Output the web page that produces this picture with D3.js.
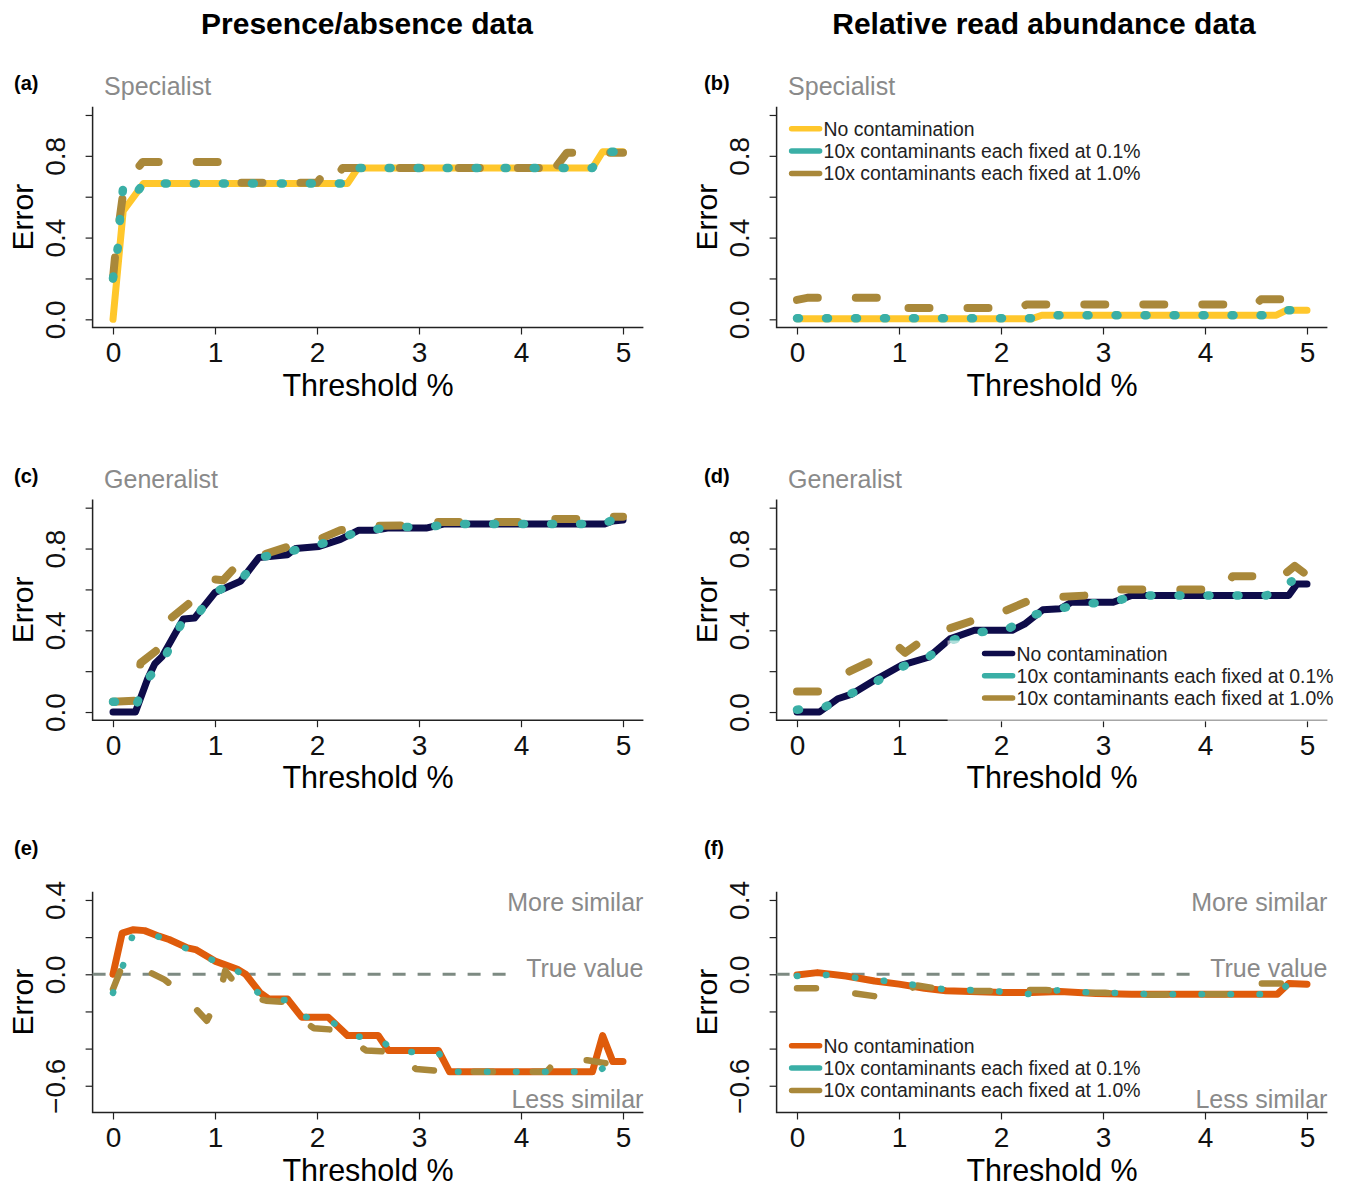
<!DOCTYPE html>
<html>
<head>
<meta charset="utf-8">
<script src="https://cdn.jsdelivr.net/npm/d3@7"></script>
<style>
  body { margin: 0; background: #fff; }
  text { font-family: "Liberation Sans", Arial, sans-serif; }
</style>
</head>
<body>
<script>
// data: [threshold %, error] pairs
var seriesNames = ["No contamination", "10x contaminants each fixed at 0.1%", "10x contaminants each fixed at 1.0%"];
var xTicks = [0, 1, 2, 3, 4, 5];
var yTicksErr = [0, 0.2, 0.4, 0.6, 0.8, 1.0];
var yLabelsErr = ["0.0", "", "0.4", "", "0.8", ""];
var yTicksSim = [-0.6, -0.4, -0.2, 0, 0.2, 0.4];
var yLabelsSim = ["\u22120.6", "", "", "0.0", "", "0.4"];

// (a) specialist, presence/absence
var aNone = [[0,0],[0.1,0.53],[0.3,0.665],[2.3,0.665],[2.4,0.74],[4.7,0.74],[4.8,0.82],[5,0.82]];
var aLow = [[0,0.2],[0.05,0.36],[0.07,0.5],[0.1,0.65],[0.2,0.6],[0.3,0.665],[2.3,0.665],[2.4,0.74],[4.7,0.74],[4.8,0.82],[5,0.82]];
var aHigh = [[0,0.2],[0.03,0.36],[0.1,0.62],[0.18,0.7],[0.29,0.77],[1.03,0.77],[1.11,0.668],[2.0,0.668],[2.08,0.72],[2.15,0.668],[2.25,0.74],[4.2,0.74],[4.3,0.82],[4.35,0.75],[4.45,0.815],[5,0.815]];

// (b) specialist, relative read abundance
var bNone = [[0,0.003],[2.3,0.003],[2.4,0.02],[4.7,0.02],[4.8,0.045],[5,0.045]];
var bLow = [[0,0.005],[2.3,0.005],[2.4,0.02],[4.7,0.02],[4.8,0.045],[4.9,0.045]];
var bHigh = [[0,0.095],[0.1,0.105],[1.0,0.105],[1.05,0.055],[2.2,0.055],[2.25,0.073],[4.5,0.073],[4.55,0.098],[4.8,0.098]];

// (c) generalist, presence/absence
var cNone = [[0,0],[0.22,0],[0.34,0.163],[0.41,0.236],[0.48,0.27],[0.69,0.455],[0.8,0.46],[1.0,0.585],[1.25,0.64],[1.43,0.756],[1.71,0.77],[1.79,0.8],[2.02,0.81],[2.23,0.845],[2.41,0.89],[2.58,0.89],[2.69,0.9],[3.07,0.9],[3.24,0.92],[4.82,0.92],[4.9,0.935],[5,0.94]];
var cLow = [[0,0.05],[0.15,0.05],[0.22,0.025],[0.33,0.155],[0.5,0.26],[0.62,0.38],[0.69,0.455],[0.82,0.47],[0.99,0.585],[1.25,0.645],[1.44,0.756],[1.72,0.785],[1.99,0.815],[2.25,0.855],[2.45,0.89],[2.79,0.905],[3.09,0.905],[3.3,0.92],[4.8,0.92],[4.9,0.94],[5,0.94]];
var cHigh = [[0,0.05],[0.22,0.055],[0.27,0.24],[0.45,0.31],[0.57,0.46],[0.78,0.545],[0.97,0.65],[1.08,0.645],[1.2,0.71],[1.41,0.76],[1.72,0.81],[1.95,0.83],[2.23,0.89],[2.5,0.91],[3.0,0.915],[3.1,0.93],[4.2,0.93],[4.25,0.945],[4.8,0.945],[4.85,0.955],[5,0.955]];

// (d) generalist, relative read abundance
var dNone = [[0,0],[0.22,0],[0.4,0.065],[0.53,0.086],[0.76,0.155],[1.02,0.228],[1.29,0.268],[1.5,0.358],[1.74,0.4],[2.11,0.4],[2.23,0.43],[2.41,0.5],[2.58,0.505],[2.69,0.537],[3.1,0.537],[3.28,0.57],[4.82,0.57],[4.9,0.626],[5,0.626]];
var dLow = [[0,0.011],[0.27,0.024],[0.53,0.09],[0.78,0.15],[1.02,0.22],[1.29,0.27],[1.51,0.35],[1.78,0.39],[2.06,0.405],[2.32,0.475],[2.56,0.505],[2.83,0.53],[3.1,0.537],[3.3,0.57],[4.6,0.57],[4.77,0.618],[4.85,0.64]];
var dHigh = [[0,0.1],[0.24,0.1],[0.35,0.14],[0.5,0.195],[0.71,0.245],[0.85,0.3],[0.97,0.33],[1.06,0.29],[1.2,0.34],[1.44,0.4],[1.74,0.45],[1.97,0.48],[2.25,0.54],[2.48,0.56],[2.83,0.57],[3.0,0.6],[4.2,0.6],[4.27,0.665],[4.5,0.665],[4.62,0.645],[4.72,0.65],[4.88,0.715],[5,0.67]];

// (e) similarity, presence/absence
var eNone = [[0,0],[0.09,0.222],[0.2,0.24],[0.31,0.235],[0.45,0.205],[0.55,0.187],[0.73,0.142],[0.81,0.133],[1.0,0.071],[1.22,0.027],[1.3,0],[1.44,-0.098],[1.53,-0.133],[1.71,-0.133],[1.85,-0.231],[2.11,-0.231],[2.3,-0.33],[2.6,-0.33],[2.7,-0.41],[3.19,-0.41],[3.3,-0.525],[4.7,-0.525],[4.8,-0.33],[4.9,-0.47],[5,-0.47]];
var eLow = [[0,-0.1],[0.1,0.05],[0.19,0.205],[0.3,0.225],[0.42,0.208],[0.69,0.146],[0.94,0.085],[1.2,0.023],[1.3,-0.01],[1.38,-0.08],[1.5,-0.133],[1.71,-0.14],[1.87,-0.228],[2.13,-0.25],[2.35,-0.333],[2.62,-0.345],[2.75,-0.418],[3.19,-0.42],[3.3,-0.525],[4.75,-0.525],[4.9,-0.47],[5,-0.47]];
var eHigh = [[0,-0.08],[0.1,0.06],[0.18,0.06],[0.3,0.027],[0.5,-0.027],[0.6,-0.07],[0.75,-0.15],[0.92,-0.25],[1.04,-0.125],[1.1,0.02],[1.2,-0.05],[1.3,-0.115],[1.5,-0.142],[1.7,-0.15],[1.8,-0.23],[1.97,-0.29],[2.2,-0.3],[2.3,-0.338],[2.48,-0.41],[2.8,-0.42],[2.97,-0.51],[3.3,-0.525],[4.25,-0.525],[4.35,-0.463],[4.65,-0.463],[4.85,-0.48],[4.94,-0.516],[5,-0.59]];

// (f) similarity, relative read abundance
var fNone = [[0,-0.004],[0.2,0.009],[0.48,-0.009],[0.76,-0.036],[1.0,-0.053],[1.25,-0.075],[1.46,-0.089],[2.02,-0.098],[2.3,-0.098],[2.58,-0.093],[2.93,-0.103],[3.28,-0.107],[4.71,-0.107],[4.82,-0.05],[5,-0.053]];
var fLow = [[0,-0.009],[0.29,-0.004],[0.57,-0.018],[0.87,-0.036],[1.15,-0.057],[1.43,-0.08],[1.71,-0.085],[2.0,-0.093],[2.28,-0.107],[2.57,-0.085],[2.86,-0.098],[3.15,-0.101],[3.44,-0.107],[4.71,-0.107],[4.82,-0.05]];
var fHigh = [[0,-0.075],[0.25,-0.075],[0.4,-0.1],[0.57,-0.103],[0.8,-0.121],[1.1,-0.08],[1.18,-0.06],[1.35,-0.075],[1.62,-0.09],[1.88,-0.09],[2.2,-0.085],[2.44,-0.085],[2.77,-0.1],[3.02,-0.1],[3.35,-0.11],[4.3,-0.107],[4.42,-0.05],[4.75,-0.05],[5,-0.053]];

// colours
var yellow = "#FFC72C", navy = "#0E0C4A", orange = "#DF5B0B";
var teal = "#3AAFA6", gold = "#A9883A";
var grey = "#8a8a8a";

// layout
var colLeft = [92.6, 776.6], rowTop = [106.8, 499.5, 891.8];
var plotW = 550.8, plotH = 220.7;
var labelX = [14, 704];

var panels = [
  {id: "(a)", col: 0, row: 0, sub: "Specialist", data: [aNone, aLow, aHigh], base: yellow},
  {id: "(b)", col: 1, row: 0, sub: "Specialist", data: [bNone, bLow, bHigh], base: yellow, legend: [15, 22]},
  {id: "(c)", col: 0, row: 1, sub: "Generalist", data: [cNone, cLow, cHigh], base: navy},
  {id: "(d)", col: 1, row: 1, sub: "Generalist", data: [dNone, dLow, dHigh], base: navy, legend: [208, 154], legendBg: true},
  {id: "(e)", col: 0, row: 2, data: [eNone, eLow, eHigh], base: orange, sim: true},
  {id: "(f)", col: 1, row: 2, data: [fNone, fLow, fHigh], base: orange, sim: true, legend: [15, 154]}
];

var svg = d3.select("body").append("svg")
  .attr("width", 1348)
  .attr("height", 1189);
svg.append("rect").attr("width", 1348).attr("height", 1189).attr("fill", "#fff");

// column headings
svg.append("text").attr("x", 367).attr("y", 34).attr("text-anchor", "middle")
  .attr("font-size", 30).attr("font-weight", "bold").text("Presence/absence data");
svg.append("text").attr("x", 1044).attr("y", 34).attr("text-anchor", "middle")
  .attr("font-size", 30).attr("font-weight", "bold").text("Relative read abundance data");

panels.forEach(function(p, i) {
  var left = colLeft[p.col], top = rowTop[p.row];
  var right = left + plotW, bottom = top + plotH;
  var ymin = p.sim ? -0.7 : 0, ymax = p.sim ? 0.4 : 1;
  var pad = (ymax - ymin) * 0.04;

  var x = d3.scaleLinear().domain([-0.2, 5.2]).range([left, right]);
  var y = d3.scaleLinear().domain([ymin - pad, ymax + pad]).range([bottom, top]);

  var g = svg.append("g");

  // panel letter and subtitle
  g.append("text").attr("x", labelX[p.col]).attr("y", p.sim ? top - 37 : top - 17)
    .attr("font-size", 20).attr("font-weight", "bold").text(p.id);
  if (p.sub) {
    g.append("text").attr("x", left + 11.5).attr("y", top - 12)
      .attr("font-size", 25).attr("fill", grey).text(p.sub);
  }

  // x axis
  var xa = g.append("g").attr("transform", "translate(0," + bottom + ")")
    .call(d3.axisBottom(x).tickValues(xTicks).tickSize(7).tickPadding(8).tickFormat(d3.format("d")));
  xa.select(".domain").remove();
  xa.selectAll("line").attr("stroke", "#222").attr("stroke-width", 1.2);
  xa.selectAll("text").attr("font-size", 28).attr("fill", "#111")
    .attr("font-family", "Liberation Sans, Arial, sans-serif");

  // y axis, labels parallel to the axis
  var yt = p.sim ? yTicksSim : yTicksErr;
  var yl = p.sim ? yLabelsSim : yLabelsErr;
  var ya = g.append("g").attr("transform", "translate(" + left + ",0)")
    .call(d3.axisLeft(y).tickValues(yt).tickSize(7).tickFormat(function(d, k) { return yl[k]; }));
  ya.select(".domain").remove();
  ya.selectAll("line").attr("stroke", "#222").attr("stroke-width", 1.2);
  ya.selectAll("text")
    .attr("x", null).attr("dy", null)
    .attr("text-anchor", "middle")
    .attr("transform", "translate(-28,0) rotate(-90)")
    .attr("font-size", 28).attr("fill", "#111")
    .attr("font-family", "Liberation Sans, Arial, sans-serif");

  // L-shaped box
  g.append("path")
    .attr("d", "M" + left + "," + top + "V" + bottom + "H" + right)
    .attr("fill", "none").attr("stroke", "#222").attr("stroke-width", 1.5);

  // axis titles
  g.append("text").attr("transform", "translate(" + (left - 60) + "," + ((top + bottom) / 2) + ") rotate(-90)")
    .attr("text-anchor", "middle").attr("font-size", 30).text("Error");
  g.append("text").attr("x", (left + right) / 2).attr("y", bottom + 68)
    .attr("text-anchor", "middle").attr("font-size", 30.5).text("Threshold %");

  // similarity reference
  if (p.sim) {
    g.append("line")
      .attr("x1", left).attr("x2", x(3.95)).attr("y1", y(0)).attr("y2", y(0))
      .attr("stroke", "#7d8a82").attr("stroke-width", 3).attr("stroke-dasharray", "13 12");
    g.append("text").attr("x", right).attr("y", top + 19).attr("text-anchor", "end")
      .attr("font-size", 25).attr("fill", grey).text("More similar");
    g.append("text").attr("x", right).attr("y", y(0) + 3).attr("text-anchor", "end")
      .attr("font-size", 25).attr("fill", grey).text("True value");
    g.append("text").attr("x", right).attr("y", bottom - 5).attr("text-anchor", "end")
      .attr("font-size", 25).attr("fill", grey).text("Less similar");
  }

  // series
  var clipId = "clip" + i;
  svg.append("clipPath").attr("id", clipId).append("rect")
    .attr("x", left).attr("y", top).attr("width", plotW).attr("height", plotH);
  var lines = g.append("g").attr("clip-path", "url(#" + clipId + ")");
  var line = d3.line().x(function(d) { return x(d[0]); }).y(function(d) { return y(d[1]); });
  var thin = p.sim;

  lines.append("path").datum(p.data[0]).attr("d", line)
    .attr("fill", "none").attr("stroke", p.base).attr("stroke-width", 7)
    .attr("stroke-linejoin", "round").attr("stroke-linecap", "round");
  lines.append("path").datum(p.data[2]).attr("d", line)
    .attr("fill", "none").attr("stroke", gold).attr("stroke-width", thin ? 6.5 : 8)
    .attr("stroke-dasharray", thin ? "19 40" : "21 38")
    .attr("stroke-linejoin", "round").attr("stroke-linecap", "round");
  lines.append("path").datum(p.data[1]).attr("d", line)
    .attr("fill", "none").attr("stroke", teal).attr("stroke-width", thin ? 6.5 : 8.5)
    .attr("stroke-dasharray", thin ? "0.5 28.5" : "2 27")
    .attr("stroke-linejoin", "round").attr("stroke-linecap", "round");

  // legend
  if (p.legend) {
    var lx = left + p.legend[0], ly = top + p.legend[1];
    if (p.legendBg) {
      g.append("rect").attr("x", lx - 37).attr("y", ly - 13)
        .attr("width", 1345 - (lx - 37)).attr("height", bottom + 1.5 - (ly - 13))
        .attr("fill", "#fff").attr("opacity", 0.6);
    }
    var cols = [p.base, teal, gold];
    seriesNames.forEach(function(name, k) {
      var yy = ly + k * 22.3;
      g.append("line").attr("x1", lx).attr("x2", lx + 28).attr("y1", yy).attr("y2", yy)
        .attr("stroke", cols[k]).attr("stroke-width", 5.5).attr("stroke-linecap", "round");
      g.append("text").attr("x", lx + 32).attr("y", yy + 7)
        .attr("font-size", 19.4).attr("fill", "#222").text(name);
    });
  }
});
</script>
</body>
</html>
